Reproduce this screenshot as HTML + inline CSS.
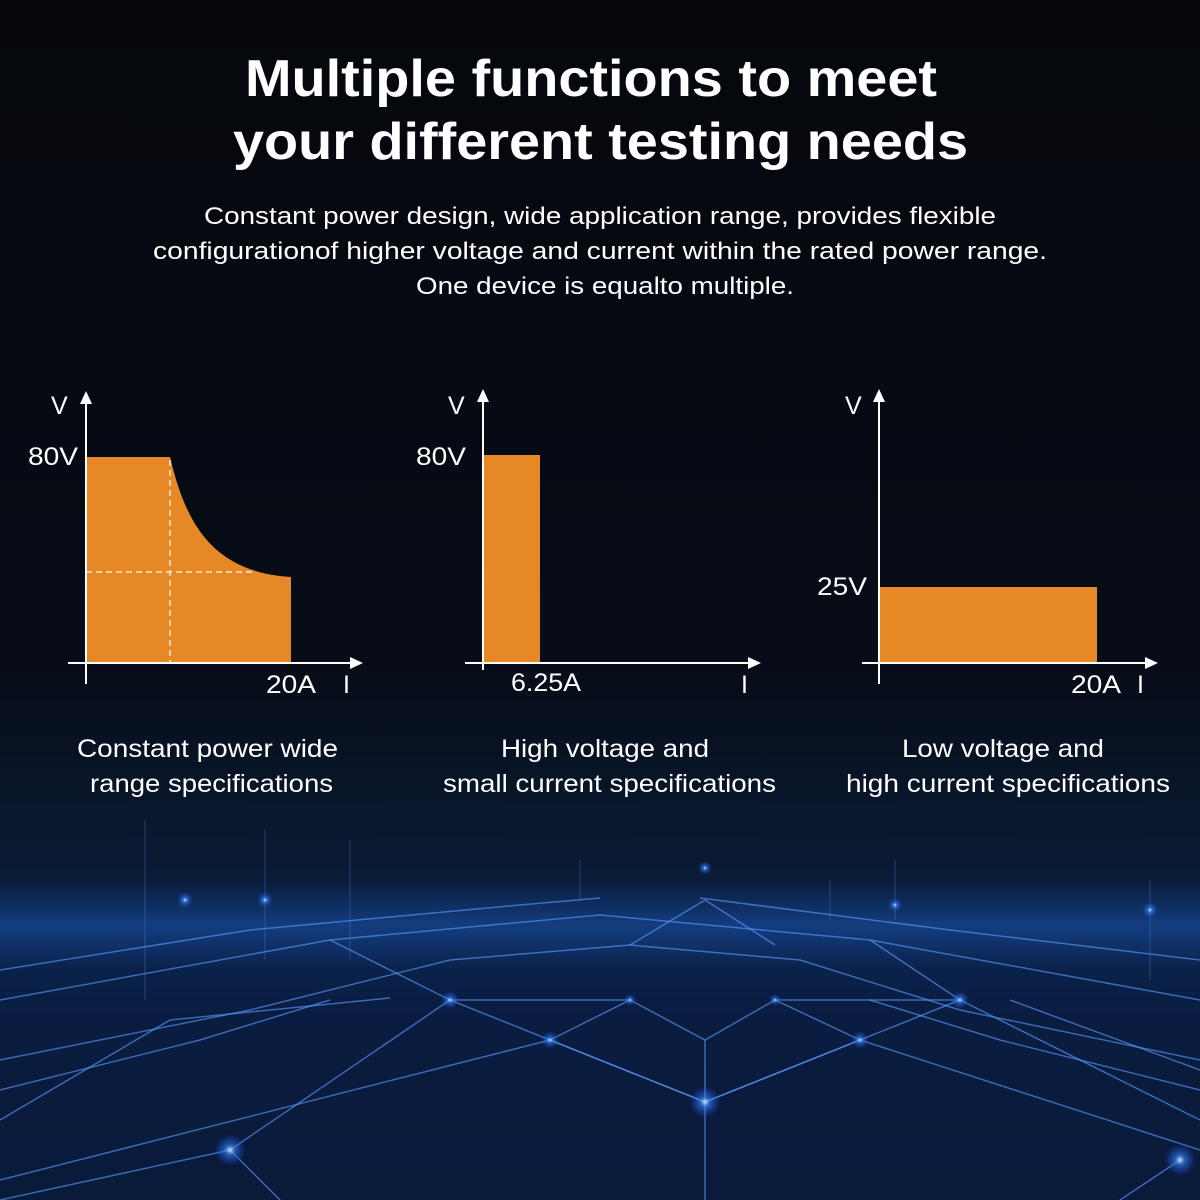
<!DOCTYPE html>
<html><head><meta charset="utf-8"><style>
html,body{margin:0;padding:0;background:#04070d;}
svg{display:block}
text{font-family:"Liberation Sans","DejaVu Sans",sans-serif;fill:#fff}
</style></head><body>
<svg width="1200" height="1200" viewBox="0 0 1200 1200" xmlns="http://www.w3.org/2000/svg">
<defs>
<linearGradient id="bg" x1="0" y1="0" x2="0" y2="1">
<stop offset="0" stop-color="#05070c"/>
<stop offset="0.55" stop-color="#070c17"/>
<stop offset="0.72" stop-color="#0a1a33"/>
<stop offset="0.78" stop-color="#0b2550"/>
<stop offset="0.85" stop-color="#0a1c40"/>
<stop offset="1" stop-color="#0a1a3a"/>
</linearGradient>
<radialGradient id="glow" cx="0.5" cy="0.5" r="0.5">
<stop offset="0" stop-color="#cfe6ff" stop-opacity="1"/>
<stop offset="0.3" stop-color="#3d8cff" stop-opacity="0.6"/>
<stop offset="1" stop-color="#1a4fff" stop-opacity="0"/>
</radialGradient>
<linearGradient id="band" x1="0" y1="0" x2="0" y2="1">
<stop offset="0" stop-color="#1b4fa8" stop-opacity="0"/>
<stop offset="0.5" stop-color="#1f5cc0" stop-opacity="0.45"/>
<stop offset="1" stop-color="#1b4fa8" stop-opacity="0"/>
</linearGradient>
</defs>
<rect width="1200" height="1200" fill="url(#bg)"/>
<rect x="0" y="880" width="1200" height="90" fill="url(#band)"/>
<g stroke="#5a9cff" stroke-opacity="0.6" stroke-width="1.5" fill="none">
<path d="M0 1000 L330 940 L600 915 L870 940 L1200 1000"/>
<path d="M0 1060 L250 1010 L450 960 L630 945 L800 960 L960 1010 L1200 1060"/>
<path d="M230 1150 L450 1000 L705 1102 L960 1000 L1200 1120"/>
<path d="M0 1180 L550 1040 L705 1102 L860 1040 L1200 1150"/>
<path d="M550 1040 L630 1000 L705 1040 L775 1000 L860 1040"/>
<path d="M450 1000 L630 1000 M775 1000 L960 1000"/>
<path d="M0 1120 L170 1020 L390 998"/>
<path d="M1200 1070 L1010 1000"/>
<path d="M230 1150 L0 1200 M230 1150 L280 1200 M1180 1160 L1120 1200"/>
<path d="M0 970 L250 930 L520 905 L600 898"/>
<path d="M1200 960 L950 930 L700 898"/>
<path d="M630 945 L705 900 L775 945"/>
<path d="M330 940 L450 1000 M870 940 L960 1000"/>
<path d="M705 1040 L705 1200"/>
<path d="M0 1090 L200 1040 L330 1000 M1200 1090 L1000 1040 L870 1000"/>
</g>
<g stroke="#5aa0ff" stroke-opacity="0.3" stroke-width="1">
<path d="M145 820 V1000 M265 830 V960 M350 840 V960 M580 860 V900 M830 880 V920 M895 860 V920 M1150 880 V980"/>
</g>
<g>
<circle cx="705" cy="1102" r="16" fill="url(#glow)"/>
<circle cx="450" cy="1000" r="9" fill="url(#glow)"/>
<circle cx="550" cy="1040" r="9" fill="url(#glow)"/>
<circle cx="860" cy="1040" r="9" fill="url(#glow)"/>
<circle cx="960" cy="1000" r="9" fill="url(#glow)"/>
<circle cx="230" cy="1150" r="16" fill="url(#glow)"/>
<circle cx="1180" cy="1160" r="16" fill="url(#glow)"/>
<circle cx="185" cy="900" r="8" fill="url(#glow)"/>
<circle cx="265" cy="900" r="8" fill="url(#glow)"/>
<circle cx="705" cy="868" r="7" fill="url(#glow)"/>
<circle cx="1150" cy="910" r="8" fill="url(#glow)"/>
<circle cx="895" cy="905" r="7" fill="url(#glow)"/>
<circle cx="630" cy="1000" r="6" fill="url(#glow)"/>
<circle cx="775" cy="1000" r="6" fill="url(#glow)"/>
</g>

<!-- Title -->
<text x="245" y="96" font-size="52" font-weight="bold" textLength="692" lengthAdjust="spacingAndGlyphs">Multiple functions to meet</text>
<text x="233" y="159" font-size="52" font-weight="bold" textLength="735" lengthAdjust="spacingAndGlyphs">your different testing needs</text>
<g font-size="24">
<text x="204" y="224" textLength="792" lengthAdjust="spacingAndGlyphs">Constant power design, wide application range, provides flexible</text>
<text x="153" y="259" textLength="894" lengthAdjust="spacingAndGlyphs">configurationof higher voltage and current within the rated power range.</text>
<text x="416" y="294" textLength="378" lengthAdjust="spacingAndGlyphs">One device is equalto multiple.</text>
</g>

<!-- Chart 1 -->
<path d="M86 457 L170 457 C185 520 210 572 291 577 L291 663 L86 663 Z" fill="#e68826"/>
<g stroke="#f5e7d2" stroke-width="1.5" stroke-dasharray="6,4">
<line x1="170" y1="460" x2="170" y2="663"/>
<line x1="86" y1="572" x2="256" y2="572"/>
</g>
<g stroke="#fff" stroke-width="2">
<line x1="86" y1="400" x2="86" y2="684"/>
<line x1="68" y1="663" x2="352" y2="663"/>
</g>
<path d="M86 391 L80 404 L92 404 Z M363 663 L350 657 L350 669 Z" fill="#fff"/>
<g font-size="25">
<text x="51" y="414">V</text>
<text x="28" y="465" textLength="50" lengthAdjust="spacingAndGlyphs">80V</text>
<text x="266" y="693" textLength="50" lengthAdjust="spacingAndGlyphs">20A</text>
<text x="343" y="693">I</text>
</g>

<!-- Chart 2 -->
<rect x="483" y="455" width="57" height="208" fill="#e68826"/>
<g stroke="#fff" stroke-width="2">
<line x1="483" y1="398" x2="483" y2="670"/>
<line x1="465" y1="663" x2="750" y2="663"/>
</g>
<path d="M483 389 L477 402 L489 402 Z M761 663 L748 657 L748 669 Z" fill="#fff"/>
<g font-size="25">
<text x="448" y="414">V</text>
<text x="416" y="465" textLength="50" lengthAdjust="spacingAndGlyphs">80V</text>
<text x="511" y="691" textLength="70" lengthAdjust="spacingAndGlyphs">6.25A</text>
<text x="741" y="693">I</text>
</g>

<!-- Chart 3 -->
<rect x="879" y="587" width="218" height="76" fill="#e68826"/>
<g stroke="#fff" stroke-width="2">
<line x1="879" y1="398" x2="879" y2="684"/>
<line x1="862" y1="663" x2="1147" y2="663"/>
</g>
<path d="M879 389 L873 402 L885 402 Z M1158 663 L1145 657 L1145 669 Z" fill="#fff"/>
<g font-size="25">
<text x="845" y="414">V</text>
<text x="817" y="595" textLength="50" lengthAdjust="spacingAndGlyphs">25V</text>
<text x="1071" y="693" textLength="50" lengthAdjust="spacingAndGlyphs">20A</text>
<text x="1137" y="693">I</text>
</g>

<!-- Captions -->
<g font-size="25">
<text x="77" y="757" textLength="261" lengthAdjust="spacingAndGlyphs">Constant power wide</text>
<text x="90" y="792" textLength="243" lengthAdjust="spacingAndGlyphs">range specifications</text>
<text x="501" y="757" textLength="208" lengthAdjust="spacingAndGlyphs">High voltage and</text>
<text x="443" y="792" textLength="333" lengthAdjust="spacingAndGlyphs">small current specifications</text>
<text x="902" y="757" textLength="202" lengthAdjust="spacingAndGlyphs">Low voltage and</text>
<text x="846" y="792" textLength="324" lengthAdjust="spacingAndGlyphs">high current specifications</text>
</g>
</svg>
</body></html>
